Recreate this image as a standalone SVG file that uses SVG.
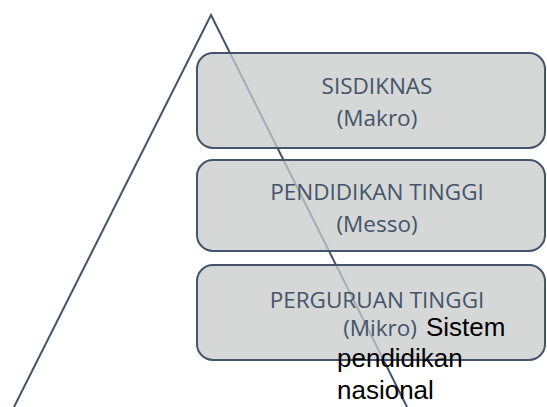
<svg xmlns="http://www.w3.org/2000/svg" width="547" height="407" viewBox="0 0 547 407">
<style>
.box{fill:#c8caca;fill-opacity:0.75;stroke:#44546a;stroke-width:2}
.lbl{font-family:"Open Sans","Liberation Sans",sans-serif;font-size:22.5px;fill:#44546a;text-anchor:middle}
.blk{font-family:"Liberation Sans",Arial,sans-serif;font-size:26px;fill:#000}
.edge{fill:none;stroke:#44546a;stroke-width:2}
</style>
<rect width="547" height="407" fill="#fff"/>
<g id="connectors">
<polyline class="edge" points="14,407 211,15 407,407"/>
</g>
<g id="sisdiknas">
<rect class="box" x="197" y="53" width="348" height="95" rx="16"/>
<text class="lbl" x="377" y="94">SISDIKNAS</text>
<text class="lbl" x="377" y="126">(Makro)</text>
</g>
<g id="pendidikan-tinggi">
<rect class="box" x="197" y="160" width="348" height="91" rx="16"/>
<text class="lbl" x="377" y="200">PENDIDIKAN TINGGI</text>
<text class="lbl" x="377" y="232">(Messo)</text>
</g>
<g id="perguruan-tinggi">
<rect class="box" x="197" y="265" width="348" height="95" rx="16"/>
<text class="lbl" x="377" y="308">PERGURUAN TINGGI</text>
<text class="lbl" x="380" y="336">(Mikro)</text>
</g>
<g id="caption">
<text class="blk" x="426" y="336">Sistem</text>
<text class="blk" x="337" y="367">pendidikan</text>
<text class="blk" x="337" y="399">nasional</text>
</g>
</svg>
